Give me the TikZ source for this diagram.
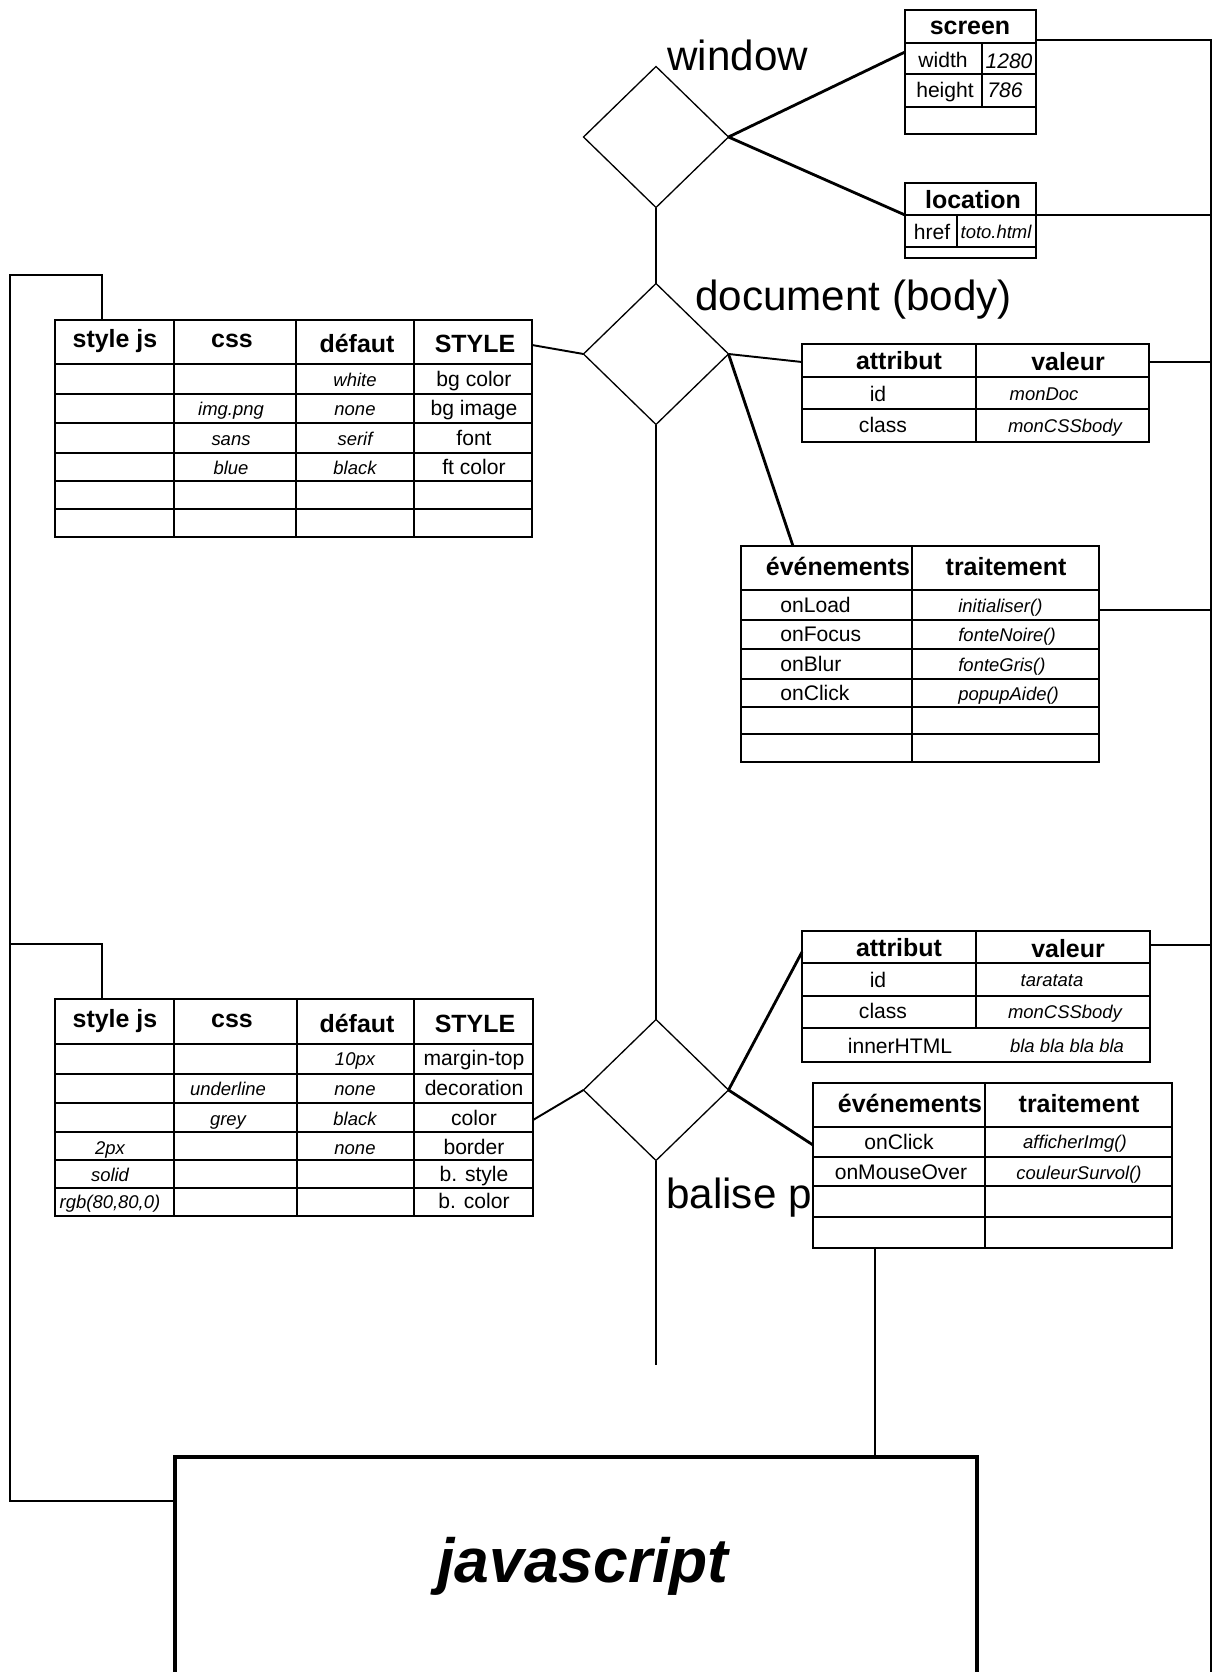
\documentclass[tikz,border=0pt]{standalone}
\usepackage{fontspec}
\setmainfont{Liberation Sans}
\usepackage{tikz}
\usetikzlibrary{shapes.geometric}

\begin{document}
\begin{tikzpicture}[x=0.2mm, y=-0.2mm,
  obj/.style={diamond, draw, line width=0.75pt, minimum width=29mm,
              minimum height=28.2mm, inner sep=0pt, outer sep=0pt},
  tbl/.style={line width=1.25pt},
  wire/.style={line width=1.1pt},
  link/.style={line width=1.6pt},
  spine/.style={line width=0.75pt},
  big/.style={font=\fontsize{24}{28}\selectfont, anchor=base west, inner sep=0pt},
  hd/.style={font=\bfseries\fontsize{14.2}{16}\selectfont, anchor=base, inner sep=0pt},
  txt/.style={font=\fontsize{12}{14}\selectfont, anchor=base, inner sep=0pt},
  val/.style={font=\itshape\fontsize{10.5}{12}\selectfont, anchor=base, inner sep=0pt}]
  \useasboundingbox (0,0) rectangle (1214,1672);
  \clip (0,0) rectangle (1214,1672);

  % Objects
  \node[obj] (win) at (656,137) {};
  \node[obj] (doc) at (656,354) {};
  \node[obj] (bal) at (656,1090) {};
  \node[big] (win-l) at (667,70) {window};
  \node[big] (doc-l) at (695,310) {document (body)};
  \node[big] (bal-l) at (666,1208) {balise p};

  % Attachment points
  \coordinate (scr-in) at (905,52);
  \coordinate (scr-out) at (1036,40);
  \coordinate (loc-in) at (905,215);
  \coordinate (loc-out) at (1036,215);
  \coordinate (bus) at (1211,1690);
  \coordinate (da-in) at (802,362);
  \coordinate (da-out) at (1149,362);
  \coordinate (de-in) at (793,546);
  \coordinate (de-out) at (1099,610);
  \coordinate (ba-in) at (802,952);
  \coordinate (ba-out) at (1150,945);
  \coordinate (be-in) at (813,1145);
  \coordinate (be-out) at (875,1248);
  \coordinate (ds-in) at (102,320);
  \coordinate (ds-out) at (532,345);
  \coordinate (bs-in) at (102,999);
  \coordinate (bs-out) at (533,1120);
  \coordinate (lbus-a) at (10,275);
  \coordinate (lbus-b) at (10,944);
  \coordinate (lbus-c) at (10,1501);
  \coordinate (spine-end) at (656,1365);

  % ---- javascript ----
  \node[draw, line width=2.2pt, anchor=north west, minimum width=160.4mm,
        minimum height=50mm, inner sep=0pt] (js) at (173,1455) {};
  \node[font=\bfseries\itshape\fontsize{35.5}{40}\selectfont, anchor=base,
        inner sep=0pt] (js-l) at (583,1582) {javascript};

  % Connectors
  \draw[spine] (win.south) -- (doc.north);
  \draw[spine] (doc.south) -- (bal.north);
  \draw[spine] (bal.south) -- (spine-end);
  \draw[link] (win.east) -- (scr-in);
  \draw[link] (win.east) -- (loc-in);
  \draw[wire] (doc.east) -- (da-in);
  \draw[link] (doc.east) -- (de-in);
  \draw[wire] (ds-out) -- (doc.west);
  \draw[wire] (bs-out) -- (bal.west);
  \draw[link] (bal.east) -- (ba-in);
  \draw[link] (bal.east) -- (be-in);
  \draw[wire] (be-out) -- (be-out |- js.north);
  % right bus
  \draw[wire] (scr-out) -| (bus);
  \draw[wire] (loc-out) -- (loc-out -| bus);
  \draw[wire] (da-out) -- (da-out -| bus);
  \draw[wire] (de-out) -- (de-out -| bus);
  \draw[wire] (ba-out) -- (ba-out -| bus);
  % left bus
  \draw[wire] (ds-in) |- (lbus-a) -- (lbus-c) -- (lbus-c -| js.west);
  \draw[wire] (bs-in) |- (lbus-b);

  % ---- screen ----
  \draw[tbl] (905,10) rectangle (1036,134);
  \foreach \y in {43,74,107} \draw[tbl] (905,\y) -- (1036,\y);
  \draw[tbl] (982,43) -- (982,107);
  \node[hd] (scr-h) at (970,35) {screen};
  \node[txt] (scr-w) at (943,67) {width};
  \node[txt, font=\itshape\fontsize{12}{14}\selectfont] (scr-wv) at (1009,68) {1280};
  \node[txt] (scr-hg) at (945,97) {height};
  \node[txt, font=\itshape\fontsize{12}{14}\selectfont] (scr-hv) at (1005,97) {786};

  % ---- location ----
  \draw[tbl] (905,183) rectangle (1036,258);
  \foreach \y in {215,247} \draw[tbl] (905,\y) -- (1036,\y);
  \draw[tbl] (957,215) -- (957,247);
  \node[hd] (loc-h) at (973,208) {location};
  \node[txt] (loc-r) at (932,239) {href};
  \node[val] (loc-v) at (996,238) {toto.html};

  % ---- document : styles ----
  \draw[tbl] (55,320) rectangle (532,537);
  \foreach \y in {364,394,423,453,481,509} \draw[tbl] (55,\y) -- (532,\y);
  \foreach \x in {174,296,414} \draw[tbl] (\x,320) -- (\x,537);
  \node[hd] (ds-h1) at (115,347) {style js};
  \node[hd] (ds-h2) at (232,347) {css};
  \node[hd] (ds-h3) at (357,352) {défaut};
  \node[hd] (ds-h4) at (475,352) {STYLE};
  \foreach \y/\a/\b/\c/\d in {386/{}/{}/white/bg color, 415/{}/img.png/none/bg image,
                              445/{}/sans/serif/font, 474/{}/blue/black/ft color} {
    \node[val] (ds-a\y) at (114,\y) {\a};
    \node[val] (ds-b\y) at (231,\y) {\b};
    \node[val] (ds-c\y) at (355,\y) {\c};
    \node[txt] (ds-d\y) at (474,\y) {\d};
  }

  % ---- document : attributs ----
  \draw[tbl] (802,344) rectangle (1149,442);
  \foreach \y in {377,409} \draw[tbl] (802,\y) -- (1149,\y);
  \draw[tbl] (976,344) -- (976,442);
  \node[hd] (da-h1) at (899,369) {attribut};
  \node[hd] (da-h2) at (1068,370) {valeur};
  \node[txt] (da-a1) at (878,401) {id};
  \node[val] (da-v1) at (1044,400) {monDoc};
  \node[txt] (da-a2) at (883,432) {class};
  \node[val] (da-v2) at (1065,432) {monCSSbody};

  % ---- document : evenements ----
  \draw[tbl] (741,546) rectangle (1099,762);
  \foreach \y in {590,620,649,679,707,734} \draw[tbl] (741,\y) -- (1099,\y);
  \draw[tbl] (912,546) -- (912,762);
  \node[hd] (de-h1) at (838,575) {événements};
  \node[hd] (de-h2) at (1006,575) {traitement};
  \foreach \y/\e/\f in {612/onLoad/initialiser(), 641/onFocus/fonteNoire(),
                        671/onBlur/fonteGris(), 700/onClick/popupAide()} {
    \node[txt, anchor=base west] (de-e\y) at (780,\y) {\e};
    \node[val, anchor=base west] (de-f\y) at (958,\y) {\f};
  }

  % ---- balise p : styles ----
  \draw[tbl] (55,999) rectangle (533,1216);
  \foreach \y in {1044,1074,1103,1132,1160,1188} \draw[tbl] (55,\y) -- (533,\y);
  \foreach \x in {174,297,414} \draw[tbl] (\x,999) -- (\x,1216);
  \node[hd] (bs-h1) at (115,1027) {style js};
  \node[hd] (bs-h2) at (232,1027) {css};
  \node[hd] (bs-h3) at (357,1032) {défaut};
  \node[hd] (bs-h4) at (475,1032) {STYLE};
  \foreach \y/\a/\b/\c/\d in {1065/{}/{}/10px/margin-top, 1095/{}/underline/none/decoration,
                              1125/{}/grey/black/color, 1154/2px/{}/none/border,
                              1181/solid/{}/{}/b. style, {1208/rgb(80,80,0)/{}/{}/b. color}} {
    \node[val] (bs-a\y) at (110,\y) {\a};
    \node[val] (bs-b\y) at (228,\y) {\b};
    \node[val] (bs-c\y) at (355,\y) {\c};
    \node[txt] (bs-d\y) at (474,\y) {\d};
  }

  % ---- balise p : attributs ----
  \draw[tbl] (802,931) rectangle (1150,1062);
  \foreach \y in {963,996,1028} \draw[tbl] (802,\y) -- (1150,\y);
  \draw[tbl] (976,931) -- (976,1028);
  \node[hd] (ba-h1) at (899,956) {attribut};
  \node[hd] (ba-h2) at (1068,957) {valeur};
  \node[txt] (ba-a1) at (878,987) {id};
  \node[val] (ba-v1) at (1052,986) {taratata};
  \node[txt] (ba-a2) at (883,1018) {class};
  \node[val] (ba-v2) at (1065,1018) {monCSSbody};
  \node[txt] (ba-a3) at (900,1053) {innerHTML};
  \node[val] (ba-v3) at (1067,1052) {bla bla bla bla};

  % ---- balise p : evenements ----
  \draw[tbl, fill=white] (813,1083) rectangle (1172,1248);
  \foreach \y in {1127,1157,1186,1217} \draw[tbl] (813,\y) -- (1172,\y);
  \draw[tbl] (985,1083) -- (985,1248);
  \node[hd] (be-h1) at (910,1112) {événements};
  \node[hd] (be-h2) at (1079,1112) {traitement};
  \node[txt] (be-e1) at (899,1149) {onClick};
  \node[val] (be-f1) at (1075,1148) {afficherImg()};
  \node[txt] (be-e2) at (901,1179) {onMouseOver};
  \node[val] (be-f2) at (1079,1179) {couleurSurvol()};
\end{tikzpicture}
\end{document}
